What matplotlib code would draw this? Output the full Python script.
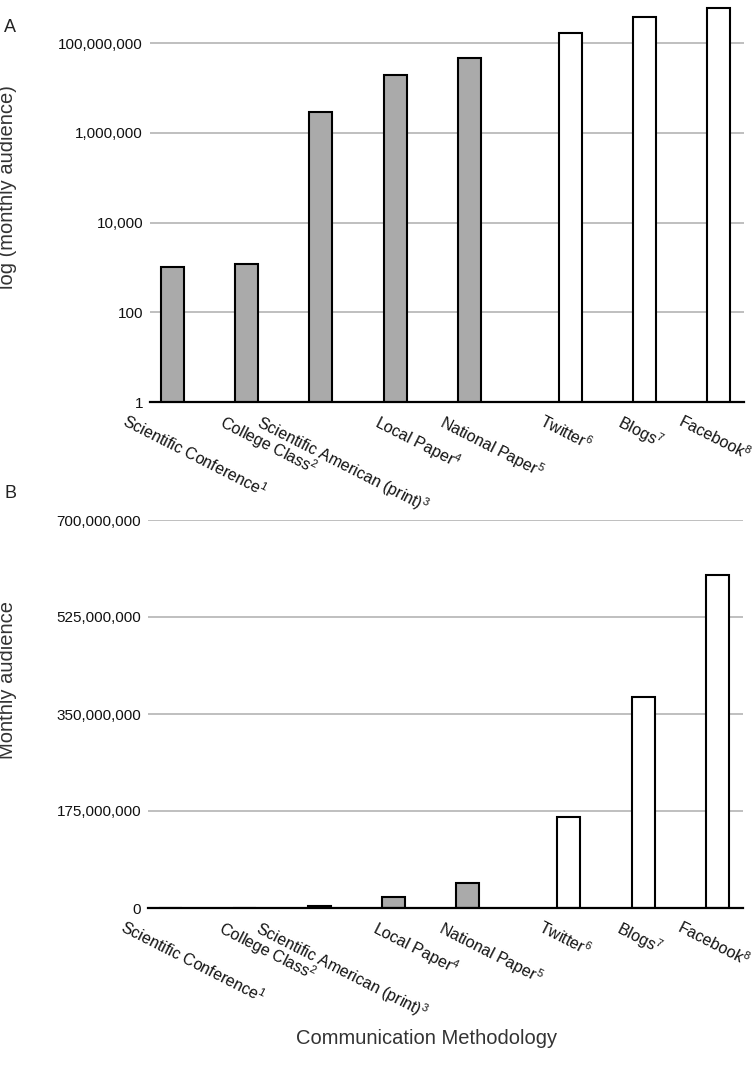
import numpy as np
import matplotlib.pyplot as plt
from matplotlib.ticker import FuncFormatter, NullLocator

plt.rcParams['font.family'] = ['Liberation Sans', 'DejaVu Sans']
plt.rcParams['mathtext.fontset'] = 'custom'
plt.rcParams['mathtext.it'] = 'Liberation Sans:italic'
plt.rcParams['mathtext.rm'] = 'Liberation Sans'

# Дані
categories = ['Scientific Conference', 'College Class', 'Scientific American (print)',
              'Local Paper', 'National Paper', 'Twitter', 'Blogs', 'Facebook']
traditional = [1000, 1200, 2900000, 19000000, 46000000]
social = [165000000, 380000000, 600000000]
log_ticks = [1, 100, 10000, 1000000, 100000000]
lin_ticks = [0, 175000000, 350000000, 525000000, 700000000]

labels = [c + r'$^{\mathit{' + str(i + 1) + '}}$' for i, c in enumerate(categories)]
x = np.arange(len(categories))
trad_x = x[:len(traditional)] - 0.18
social_x = x[len(traditional):] + 0.18
bar_w = 0.31

fig = plt.figure(figsize=(7.52, 10.8), dpi=100)
axA = fig.add_axes([150 / 752, 1 - 402 / 1080, 594 / 752, 397 / 1080])
axB = fig.add_axes([148 / 752, 1 - 908 / 1080, 595 / 752, 388 / 1080])

fmt = FuncFormatter(lambda v, p: f'{int(round(v)):,}')


def style(ax):
    ax.bar(trad_x, traditional, width=bar_w, color='#aaaaaa', edgecolor='black', linewidth=1.5, zorder=3)
    ax.bar(social_x, social, width=bar_w, color='white', edgecolor='black', linewidth=1.5, zorder=3)
    ax.set_xlim(-0.48, 7.52)
    # підписи трохи зсунуті праворуч, як в оригіналі
    ax.set_xticks(x + 0.12)
    ax.set_xticklabels(labels, rotation=-27, ha='center', va='top', fontsize=11.5, color='#111111')
    ax.tick_params(axis='x', length=0, pad=7)
    ax.tick_params(axis='y', length=0, pad=5, labelsize=11, labelcolor='#111111')
    ax.yaxis.set_major_formatter(fmt)
    ax.yaxis.set_minor_locator(NullLocator())
    ax.yaxis.grid(True, color='#b4b4b4', linewidth=1.2)
    ax.set_axisbelow(True)
    for s in ['top', 'right', 'left']:
        ax.spines[s].set_visible(False)
    ax.spines['bottom'].set_linewidth(1.6)
    ax.spines['bottom'].set_zorder(4)


axA.set_yscale('log')
style(axA)
axA.set_ylim(1, 10 ** 8.85)
axA.set_yticks(log_ticks)
axA.yaxis.set_major_formatter(fmt)
axA.yaxis.set_minor_locator(NullLocator())

style(axB)
axB.set_ylim(0, 700000000)
axB.set_yticks(lin_ticks)

fig.text(8 / 752, 1 - 187 / 1080, 'log (monthly audience)', rotation=90, ha='center', va='center',
         fontsize=14.5, color='#333333')
fig.text(8 / 752, 1 - 680 / 1080, 'Monthly audience', rotation=90, ha='center', va='center',
         fontsize=14.5, color='#333333')
fig.text(427 / 752, 1 - 1039 / 1080, 'Communication Methodology', ha='center', va='center',
         fontsize=14.5, color='#333333')
fig.text(10 / 752, 1 - 27 / 1080, 'A', ha='center', va='center', fontsize=13, color='#222222')
fig.text(10 / 752, 1 - 493 / 1080, 'B', ha='center', va='center', fontsize=13, color='#222222')

fig.savefig('out.png', dpi=100)
